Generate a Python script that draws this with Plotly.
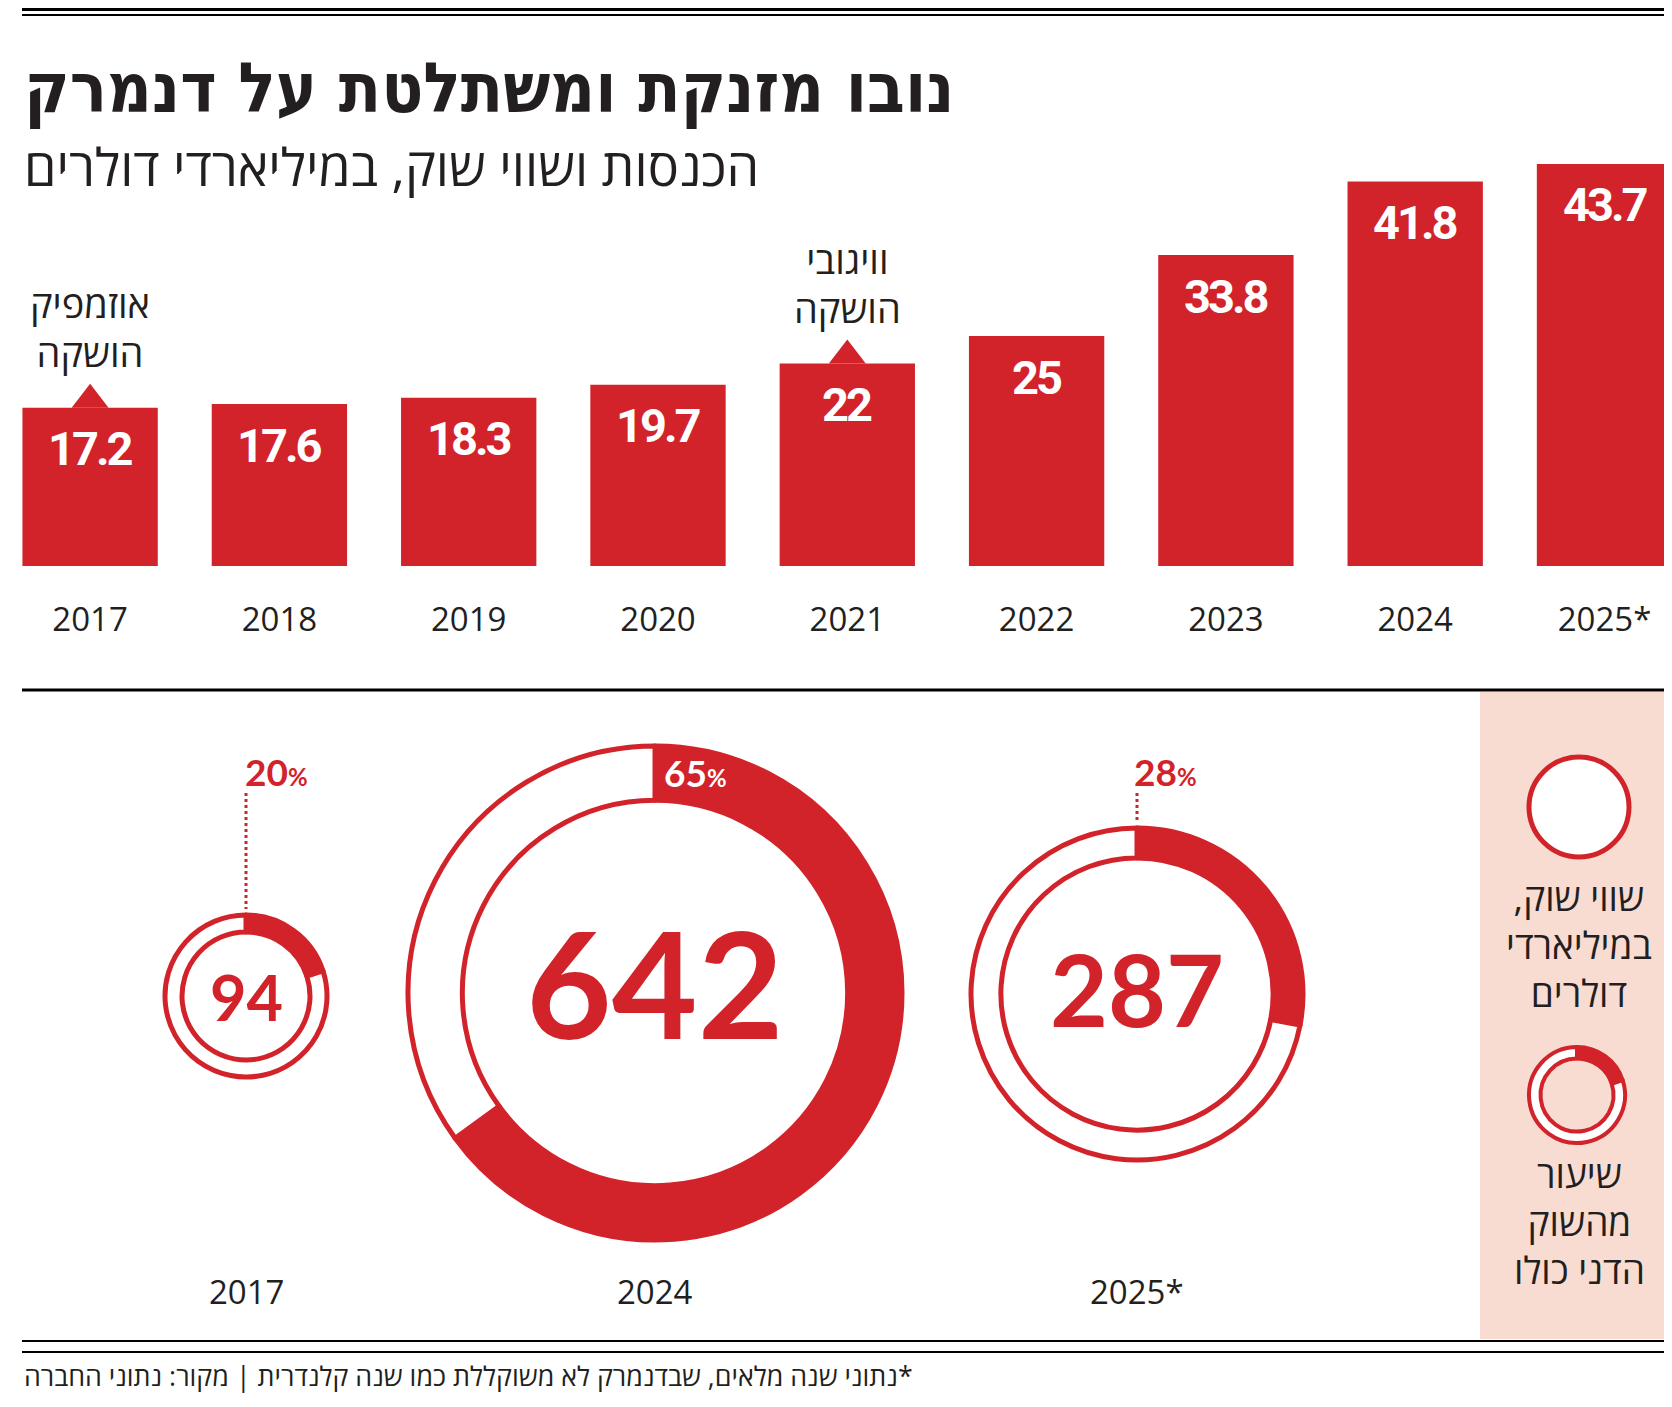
import plotly.graph_objects as go

W, H = 1672, 1407
PAD = 8  # page margin of the html body
FW, FH = W - PAD, H - 2 * PAD
RED = '#d2232a'
INK = '#231f20'
PINK = '#f9dcd1'
HEB = 'Open Sans, Liberation Sans, DejaVu Sans, sans-serif'
NUM = 'Roboto, Liberation Sans, sans-serif'
GEO = 'Lato, Inter, sans-serif'
RLM = '\u200f'

# revenue, billions of dollars
years = ['2017', '2018', '2019', '2020', '2021', '2022', '2023', '2024', '2025*']
revenue = [17.2, 17.6, 18.3, 19.7, 22, 25, 33.8, 41.8, 43.7]

# drug launches
launch_years = ['2017', '2021']
launch_drugs = ['אוזמפיק', 'וויגובי']

# market cap (billions of dollars) and share of the whole Danish market (%)
cap_years = ['2017', '2024', '2025*']
market_cap = [94, 642, 287]
market_share = [20, 65, 28]
legend_share = 20


def px(x):
    return (x - PAD) / FW


def py(y):
    return 1 - (y - PAD) / FH


# bar area geometry (page pixels)
BASE_Y = 566
TOP_Y = 150
UNIT_PX = 9.2
STEP = 189.3
FIRST_X = 90.1
y_max = (BASE_Y - TOP_Y) / UNIT_PX
x0 = (FIRST_X - PAD) / STEP

fig = go.Figure()

fig.add_trace(go.Bar(x=years, y=revenue, marker=dict(color=RED, line=dict(width=0)),
                     width=0.715, hoverinfo='x+y'))

# little pointers on top of the launch-year bars
tri_r = 16
launch_vals = [revenue[years.index(y)] for y in launch_years]
fig.add_trace(go.Scatter(x=launch_years, y=[v + (tri_r / 2) / UNIT_PX for v in launch_vals],
                         mode='markers', hoverinfo='skip',
                         marker=dict(symbol='triangle-up', size=2 * tri_r, color=RED,
                                     line=dict(width=0))))

annotations = []
for i, v in enumerate(revenue):
    annotations.append(dict(x=i, y=v, xref='x', yref='y', yshift=-41, xanchor='center',
                            yanchor='middle', showarrow=False,
                            text='<span style="letter-spacing:-3px">{:g}</span>'.format(v),
                            font=dict(family=NUM, size=47, color='white', weight='bold')))

for yr, v, drug in zip(launch_years, launch_vals, launch_drugs):
    annotations.append(dict(x=years.index(yr), y=v, xref='x', yref='y', yshift=80,
                            xanchor='center', yanchor='middle', text=drug + '<br>הושקה',
                            showarrow=False, font=dict(family=HEB, size=38, color=INK)))

# donuts
rings = [(246, 996, 81, 0.79), (655, 993, 247, 0.78), (1137, 994, 166, 0.82)]
cap_sizes = [63, 148, 100]
cap_dy = [0, -11, -6]
pct_dx = [-3, 7, -5]
pct_y = [771, 772, 771]
pct_col = [RED, 'white', RED]
dotted = [True, False, True]

shapes = []
for (cx, cy, r, hole), yr, cap, share, sz, dy, dx, ly, col, dot in zip(
        rings, cap_years, market_cap, market_share, cap_sizes, cap_dy, pct_dx, pct_y, pct_col, dotted):
    fig.add_trace(go.Pie(values=[share, 100 - share], hole=hole, sort=False,
                         direction='clockwise', rotation=0, textinfo='none',
                         hoverinfo='skip', showlegend=False,
                         marker=dict(colors=[RED, 'white'], line=dict(color=RED, width=5)),
                         domain=dict(x=[px(cx - r), px(cx + r)], y=[py(cy + r), py(cy - r)])))
    annotations.append(dict(x=px(cx), y=py(cy + dy), xref='paper', yref='paper',
                            text=str(cap), showarrow=False, xanchor='center', yanchor='middle',
                            font=dict(family=GEO, size=sz, color=RED, weight='bold')))
    annotations.append(dict(x=px(cx + dx), y=py(ly), xref='paper', yref='paper',
                            text='{}<span style="font-size:24px">%</span>'.format(share),
                            showarrow=False, xanchor='left', yanchor='middle',
                            font=dict(family=GEO, size=37, color=col, weight='bold')))
    if dot:
        shapes.append(dict(type='line', xref='paper', yref='paper',
                           x0=px(cx), x1=px(cx), y0=py(ly + 22), y1=py(cy - r - 6),
                           line=dict(color=RED, width=3, dash='dot')))
    annotations.append(dict(x=px(cx), y=py(1291), xref='paper', yref='paper',
                            text=yr, showarrow=False, xanchor='center', yanchor='middle',
                            font=dict(family=HEB, size=33, color=INK)))

# legend panel
shapes.insert(0, dict(type='rect', xref='paper', yref='paper', x0=px(1480), x1=1,
                      y0=py(1339), y1=py(692), fillcolor=PINK, line=dict(width=0), layer='below'))
shapes.append(dict(type='circle', xref='paper', yref='paper', x0=px(1529), x1=px(1629),
                   y0=py(857), y1=py(757), fillcolor='white', line=dict(color=RED, width=5)))
lx, ly_, lr = 1577, 1095, 48
fig.add_trace(go.Pie(values=[legend_share, 100 - legend_share], hole=0.76, sort=False,
                     direction='clockwise', textinfo='none', hoverinfo='skip', showlegend=False,
                     marker=dict(colors=[RED, 'white'], line=dict(color=RED, width=4)),
                     domain=dict(x=[px(lx - lr), px(lx + lr)], y=[py(ly_ + lr), py(ly_ - lr)])))
for text, yy in [('שווי שוק,' + RLM + '<br>במיליארדי<br>דולרים', 944),
                 ('שיעור<br>מהשוק<br>הדני כולו', 1221)]:
    annotations.append(dict(x=px(1579), y=py(yy), xref='paper', yref='paper', showarrow=False,
                            xanchor='center', yanchor='middle', text=text,
                            font=dict(family=HEB, size=37, color=INK)))

# titles and footer
annotations.append(dict(x=px(22), y=py(88), xref='paper', yref='paper', showarrow=False,
                        xanchor='left', yanchor='middle', text='נובו מזנקת ומשתלטת על דנמרק',
                        font=dict(family='DejaVu Sans Condensed, Liberation Sans, sans-serif',
                                  size=69, color=INK, weight='bold')))
annotations.append(dict(x=px(22), y=py(165), xref='paper', yref='paper', showarrow=False,
                        xanchor='left', yanchor='middle', text='הכנסות ושווי שוק, במיליארדי דולרים',
                        font=dict(family=HEB, size=52, color=INK)))
annotations.append(dict(x=px(22), y=py(1375), xref='paper', yref='paper', showarrow=False,
                        xanchor='left', yanchor='middle',
                        text=RLM + '*נתוני שנה מלאים, שבדנמרק לא משוקללת כמו שנה קלנדרית | מקור: נתוני החברה',
                        font=dict(family=HEB, size=26.8, color=INK)))

# rules
for y, w in [(9.5, 3), (15, 2), (690, 3), (1341, 2), (1352, 2)]:
    shapes.append(dict(type='line', xref='paper', yref='paper', x0=px(22), x1=1,
                       y0=py(y), y1=py(y), line=dict(color='black', width=w)))

fig.update_layout(
    width=FW, height=FH, autosize=False, margin=dict(l=0, r=0, t=0, b=0),
    paper_bgcolor='white', plot_bgcolor='white', showlegend=False,
    annotations=annotations, shapes=shapes,
    xaxis=dict(domain=[0, 1], range=[-x0, (FW / STEP) - x0], type='category',
               showgrid=False, zeroline=False, showline=False, ticks='',
               ticklabelstandoff=31, tickfont=dict(family=HEB, size=33, color=INK),
               fixedrange=True),
    yaxis=dict(domain=[py(BASE_Y), py(TOP_Y)], range=[0, y_max], visible=False, fixedrange=True),
)

fig.write_html('out.html')
